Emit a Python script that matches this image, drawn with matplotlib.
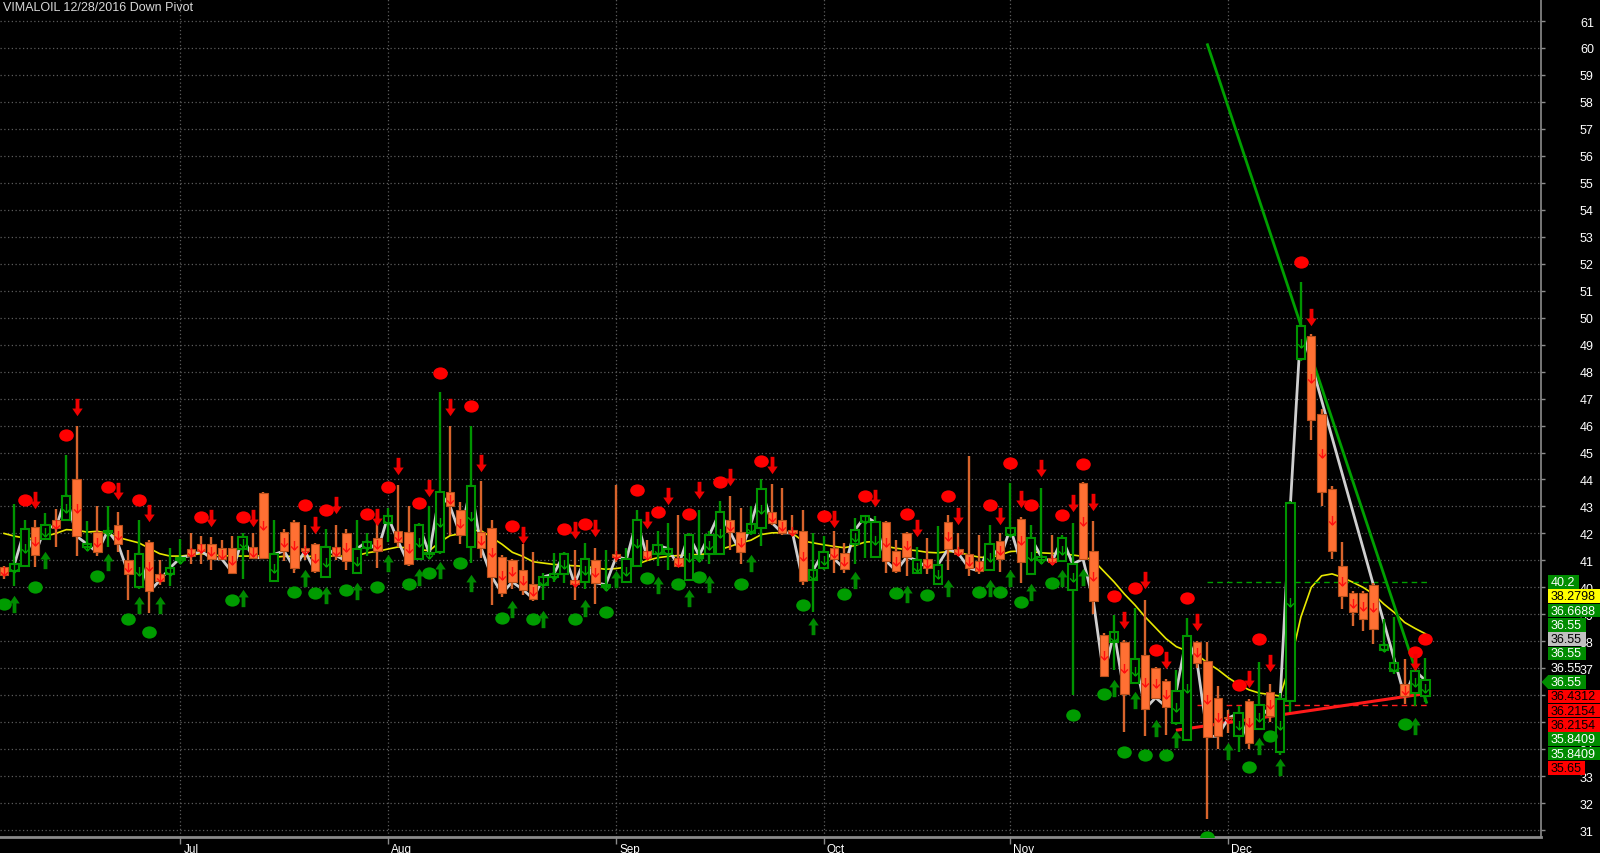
import numpy as np
import matplotlib
matplotlib.use('Agg')
import matplotlib.pyplot as plt
from matplotlib.path import Path
from matplotlib.transforms import blended_transform_factory, ScaledTranslation
import matplotlib.patches as mpatches

# ---------------- data ----------------
title = "VIMALOIL 12/28/2016 Down Pivot"

opens = [40.75, 40.6, 40.8, 42.25, 41.8, 42.5, 42.5, 44.0, 41.5, 42.05,
         42.05, 42.3, 41.0, 40.0, 41.7, 40.5, 40.5, 41.0, 41.43, 41.6,
         41.6, 41.45, 41.45, 41.43, 41.5, 43.5, 40.25, 42.05, 42.43, 41.45,
         41.6, 40.38, 41.5, 42.0, 40.55, 41.47, 41.83, 42.4, 42.08, 42.05,
         41.07, 41.22, 41.3, 43.52, 42.88, 41.5, 42.05, 42.2, 41.12, 41.0,
         40.66, 40.13, 40.1, 40.4, 40.5, 40.27, 40.2, 41.0, 40.0, 41.25,
         40.19, 40.8, 41.34, 41.22, 41.22, 41.09, 40.29, 41.09, 41.22, 41.22,
         42.5, 42.04, 42.02, 42.2, 42.8, 42.5, 42.14, 42.1, 40.27, 40.7,
         41.46, 41.28, 41.59, 42.41, 41.13, 42.41, 41.34, 42.02, 40.54, 41.07,
         40.14, 42.41, 41.43, 41.22, 40.97, 40.64, 41.71, 41.93, 42.55, 40.51,
         41.0, 41.08, 40.98, 39.89, 43.88, 41.36, 38.23, 37.98, 37.98, 36.47,
         37.49, 37.0, 36.52, 34.98, 34.33, 37.98, 37.28, 35.88, 35.2, 34.48,
         35.8, 34.74, 36.13, 33.91, 35.8, 48.47, 49.33, 46.43, 43.65, 40.78,
         39.79, 39.79, 40.09, 37.68, 36.89, 36.42, 36.07, 35.98]
highs = [40.8, 43.1, 42.5, 42.5, 42.75, 42.9, 44.9, 46.0, 42.45, 43.0,
         43.0, 42.8, 41.4, 42.5, 41.75, 41.0, 41.45, 41.8, 42.0, 41.9,
         41.85, 41.75, 41.9, 42.0, 42.0, 43.55, 42.5, 42.15, 42.5, 42.33,
         41.65, 42.15, 42.3, 42.15, 42.5, 42.0, 42.75, 42.95, 43.8, 43.0,
         42.4, 43.0, 47.25, 46.0, 43.15, 46.0, 43.93, 42.5, 41.2, 41.05,
         41.6, 41.3, 40.55, 41.28, 41.3, 41.4, 41.65, 41.47, 41.4, 43.8,
         41.45, 42.88, 41.77, 42.08, 42.4, 42.67, 42.0, 42.88, 42.1, 43.2,
         43.37, 42.94, 43.0, 44.0, 43.85, 43.68, 42.7, 42.88, 42.0, 41.9,
         42.08, 41.65, 42.57, 42.65, 42.63, 42.45, 41.77, 42.05, 41.5, 41.83,
         42.26, 42.67, 42.0, 44.88, 41.96, 42.33, 42.0, 43.87, 42.6, 42.33,
         43.7, 41.96, 41.96, 42.38, 43.9, 42.47, 38.3, 38.96, 38.05, 39.24,
         39.54, 37.05, 36.6, 36.94, 38.85, 38.0, 37.98, 36.33, 35.45, 35.6,
         35.85, 37.25, 36.4, 36.1, 43.2, 51.31, 49.4, 46.6, 43.77, 41.67,
         39.85, 39.85, 40.15, 38.83, 38.9, 37.34, 37.6, 37.38]
lows = [40.3, 40.05, 40.75, 40.75, 41.75, 41.5, 42.45, 41.15, 41.45, 41.15,
        41.5, 41.3, 39.55, 39.95, 39.05, 40.1, 40.05, 40.95, 40.85, 40.85,
        40.65, 41.0, 40.5, 40.3, 41.05, 41.05, 40.2, 40.97, 40.55, 41.03,
        40.55, 40.35, 41.0, 40.66, 40.5, 41.15, 40.7, 41.7, 41.5, 40.8,
        41.05, 41.2, 41.25, 41.95, 41.6, 40.9, 41.1, 39.33, 39.65, 39.95,
        39.7, 39.5, 39.55, 40.2, 40.17, 39.55, 39.93, 39.37, 39.85, 40.95,
        40.15, 40.75, 41.0, 40.78, 40.65, 40.75, 40.25, 41.0, 40.85, 41.2,
        41.38, 40.85, 41.95, 41.52, 42.3, 41.95, 41.95, 40.1, 39.1, 40.65,
        40.54, 40.54, 40.85, 41.1, 41.1, 40.54, 40.55, 40.42, 40.5, 40.5,
        40.1, 40.66, 41.2, 40.44, 40.5, 40.6, 40.57, 41.9, 40.17, 40.45,
        40.9, 40.9, 40.95, 36.0, 41.0, 39.03, 36.7, 36.94, 34.64, 36.4,
        34.5, 35.85, 34.52, 34.9, 34.3, 37.0, 31.43, 34.0, 34.6, 33.9,
        34.0, 34.7, 35.0, 33.8, 35.38, 48.4, 45.48, 43.03, 41.05, 39.2,
        38.58, 38.39, 37.9, 37.6, 36.8, 35.67, 35.6, 35.75]
closes = [40.45, 40.85, 42.15, 41.2, 42.3, 42.2, 43.4, 41.9, 41.6, 41.3,
          42.1, 41.6, 40.5, 41.25, 39.85, 40.25, 40.72, 41.1, 41.18, 41.35,
          41.07, 41.05, 40.55, 41.85, 41.1, 41.1, 41.22, 41.35, 40.7, 41.35,
          40.6, 41.5, 41.18, 40.97, 41.43, 41.7, 41.35, 42.63, 41.7, 40.85,
          42.3, 41.25, 43.52, 43.0, 41.93, 43.77, 41.45, 40.4, 39.78, 40.2,
          39.92, 39.58, 40.39, 40.5, 41.25, 40.14, 41.07, 40.17, 40.1, 41.13,
          41.05, 42.5, 41.09, 41.56, 41.44, 40.8, 41.93, 41.18, 41.95, 42.8,
          42.04, 41.3, 42.36, 43.64, 42.4, 42.02, 42.02, 40.23, 40.64, 41.32,
          41.06, 40.69, 42.12, 42.63, 42.41, 40.99, 40.6, 41.13, 41.0, 40.72,
          40.82, 41.43, 41.25, 40.72, 40.6, 41.59, 41.06, 42.2, 40.93, 41.83,
          41.12, 40.94, 41.82, 40.87, 41.05, 39.49, 36.73, 38.33, 36.03, 37.35,
          35.5, 35.91, 35.58, 36.17, 38.19, 37.21, 34.46, 34.49, 35.15, 35.34,
          34.22, 35.63, 35.22, 35.86, 43.13, 49.68, 46.22, 43.53, 41.36, 39.67,
          39.08, 38.83, 38.46, 37.88, 37.18, 35.96, 36.91, 36.55]

# yellow moving average
avg_line = [42.0, 41.9, 41.83, 41.8, 41.9, 42.0, 42.14, 42.12, 42.05, 42.08,
            42.0, 41.85, 41.75, 41.65, 41.45, 41.25, 41.16, 41.16, 41.2, 41.25,
            41.2, 41.18, 41.16, 41.16, 41.16, 41.18, 41.12, 41.15, 41.15, 41.15,
            41.15, 41.16, 41.16, 41.16, 41.18, 41.28, 41.34, 41.42, 41.5, 41.45,
            41.4, 41.36, 41.68, 41.92, 41.99, 42.12, 42.1, 41.85, 41.6, 41.3,
            41.15, 40.95, 40.9, 40.85, 40.82, 40.8, 40.78, 40.72, 40.67, 40.7,
            40.75, 40.85, 41.0, 41.1, 41.15, 41.18, 41.2, 41.22, 41.25, 41.4,
            41.52, 41.65, 41.75, 41.96, 42.02, 42.03, 42.0, 41.72, 41.65, 41.58,
            41.52, 41.47, 41.55, 41.68, 41.7, 41.52, 41.45, 41.4, 41.36, 41.3,
            41.28, 41.33, 41.3, 41.2, 41.12, 41.1, 41.2, 41.33, 41.35, 41.33,
            41.28, 41.26, 41.25, 41.2, 41.15, 41.0, 40.6, 40.2, 39.75, 39.35,
            38.9, 38.5, 38.1, 37.8, 37.65, 37.5, 37.2, 36.95, 36.65, 36.4,
            36.2, 36.08, 36.03, 35.97, 37.2, 38.9, 40.0, 40.43, 40.5, 40.37,
            40.19, 40.0, 39.75, 39.38, 39.07, 38.7, 38.48, 38.28]

# zigzag (grey) skips these bars (straight leg of the last swing)
zigzag_skip = [126, 127, 128, 129, 130, 131, 132, 133, 134]

month_names = ['Jul', 'Aug', 'Sep', 'Oct', 'Nov', 'Dec']
month_bars = [17, 37, 59, 79, 97, 118]

red_circle_bars = [2, 6, 10, 13, 19, 23, 29, 31, 35, 37, 40, 42, 45, 49,
                   54, 56, 61, 63, 66, 69, 73, 79, 83, 87, 91, 95, 97, 99,
                   102, 104, 107, 109, 111, 114, 119, 121, 125, 136, 137]
red_circle_vals = [43.23, 45.66, 43.72, 43.23, 42.62, 42.62, 43.04, 42.88, 42.73, 43.72,
                   43.13, 47.96, 46.73, 42.29, 42.17, 42.36, 43.62, 42.79, 42.73, 43.92,
                   44.69, 42.63, 43.37, 42.73, 43.4, 43.04, 44.61, 43.04,
                   42.7, 44.58, 39.68, 39.96, 37.68, 39.59, 36.38, 38.08, 52.06, 37.59, 38.09]

red_arrow_bars = [3, 7, 11, 14, 20, 24, 30, 32, 36, 38, 41, 43, 46, 50,
                  55, 57, 62, 64, 67, 70, 74, 80, 84, 88, 92, 96, 98, 100,
                  103, 105, 108, 110, 112, 115, 120, 122, 126, 136]
red_arrow_vals = [43.25, 46.7, 43.56, 42.76, 42.57, 42.57, 42.3, 43.07, 42.6, 44.5,
                  43.7, 46.7, 44.6, 41.95, 42.14, 42.2, 42.51, 43.37, 43.62, 44.11,
                  44.54, 42.53, 43.33, 42.2, 42.63, 42.66, 43.28, 44.42,
                  43.12, 43.17, 38.79, 40.27, 37.29, 38.71, 36.6, 37.2, 50.03, 37.23]

green_circle_bars = [0, 3, 9, 12, 14, 22, 28, 30, 33, 36, 39, 41, 44, 48,
                     51, 55, 58, 62, 65, 67, 71, 77, 81, 86, 89, 94, 96, 98,
                     101, 103, 106, 108, 110, 112, 116, 120, 122, 135]
green_circle_vals = [39.4, 40.01, 40.42, 38.81, 38.36, 39.55, 39.84, 39.8, 39.92, 40.0,
                     40.13, 40.52, 40.89, 38.88, 38.81, 38.81, 39.08, 40.35, 40.11, 40.39,
                     40.11, 39.34, 39.77, 39.8, 39.7, 39.83, 39.83, 39.45,
                     40.17, 35.26, 36.03, 33.91, 33.77, 33.8, 30.75, 33.34, 34.5, 34.93]

green_arrow_bars = [1, 4, 10, 13, 15, 23, 29, 31, 34, 37, 40, 42, 45, 49,
                    52, 56, 59, 63, 66, 68, 72, 78, 82, 87, 91, 95, 97, 99,
                    102, 104, 107, 109, 111, 113, 118, 121, 123, 136]
green_arrow_vals = [39.37, 41.03, 40.93, 39.33, 39.33, 39.6, 40.35, 39.7, 39.86, 40.9,
                    40.39, 40.66, 40.17, 39.19, 38.84, 39.24, 40.32, 40.07, 39.61, 40.14,
                    40.91, 38.56, 40.28, 39.74, 39.98, 39.98, 40.33, 39.83,
                    40.33, 40.38, 36.28, 35.82, 34.8, 34.36, 33.94, 34.11, 33.35, 34.87]

green_trend_x = [116.0, 137.1]
green_trend_y = [60.12, 35.74]
red_trend_x = [113.1, 136.8]
red_trend_y = [34.71, 36.05]
green_dash = (116.0, 137.2, 40.2)
red_dash = (115.0, 137.2, 35.65)

label_texts = ['40.2', '38.2798', '36.6688', '36.55', '36.55', '36.55', '36.55',
               '36.55', '36.4312', '36.2154', '36.2154', '35.8409', '35.8409', '35.65']
label_bg = ['#008c00', '#ffff00', '#008c00', '#008c00', '#c0c0c0', '#008c00', 'none',
            '#008c00', '#ff0000', '#ff0000', '#ff0000', '#008c00', '#008c00', '#ff0000']
label_fg = ['white', 'black', 'white', 'white', 'black', 'white', 'white',
            'white', 'black', 'black', 'black', 'white', 'white', 'black']
label_w_px = [31, 52, 52, 38, 38, 38, 0, 38, 52, 52, 52, 52, 52, 37]
label_pointer = [False] * 7 + [True] + [False] * 6

# ---------------- figure ----------------
W, H = 1600, 854
AX_R, AX_B = 1541, 838
fig = plt.figure(figsize=(W / 100, H / 100), dpi=100, facecolor='black')
ax = fig.add_axes([0, (H - AX_B) / H, AX_R / W, AX_B / H], facecolor='black')

px_per_unit = 26.97
bar_px = 10.375
ax.set_ylim(61 - (AX_B - 22) / px_per_unit, 61 + 22 / px_per_unit)
ax.set_xlim(-4 / bar_px, (AX_R - 4) / bar_px)

n = len(closes)
idx = np.arange(n)
o = np.array(opens); c = np.array(closes); hi = np.array(highs); lo = np.array(lows)
up = c >= o

GREEN = '#009400'
ORANGE = '#ff7033'

# grid
ax.set_yticks(range(31, 62))
ax.set_xticks(month_bars)
ax.grid(True, color='#5c5c5c', linestyle=(0, (1, 2)), linewidth=0.9, zorder=0)
ax.set_axisbelow(True)

# moving average
ax.plot(idx, avg_line, color='#e8e800', lw=1.2, zorder=2)

# trend lines and dashed levels
ax.plot(green_trend_x, green_trend_y, color='#00a000', lw=2, zorder=2.2)
ax.plot(red_trend_x, red_trend_y, color='#ff1a1a', lw=2.2, zorder=2.2)
ax.hlines(green_dash[2], green_dash[0], green_dash[1], colors='#00a000', lw=1,
          linestyles=(0, (4, 3)), zorder=2.1)
ax.hlines(red_dash[2], red_dash[0], red_dash[1], colors='#ff2020', lw=1,
          linestyles=(0, (4, 3)), zorder=2.1)

# zigzag
zz_x = [i for i in range(n) if i not in zigzag_skip]
zz_y = [closes[i] for i in zz_x]
ax.plot(zz_x, zz_y, color='#cfcfcf', lw=2, zorder=2.5)

# wicks
ax.vlines(idx[up], lo[up], hi[up], colors=GREEN, lw=1.7, zorder=3)
ax.vlines(idx[~up], lo[~up], hi[~up], colors='#d8642c', lw=1.7, zorder=3)

# bodies
bw = 0.8
bot = np.minimum(o, c)
ht = np.maximum(np.abs(c - o), 0.04)
ax.bar(idx[up], ht[up], bw, bottom=bot[up], facecolor='black', edgecolor=GREEN,
       linewidth=1.5, zorder=4)
ax.bar(idx[~up], ht[~up], bw, bottom=bot[~up], facecolor=ORANGE, edgecolor='#b9501c',
       linewidth=0.8, zorder=4)

# small signal arrows inside candles
sa = Path([(0, 0.5), (0, -0.5), (-0.38, -0.1), (0, -0.5), (0.38, -0.1)],
          [Path.MOVETO, Path.LINETO, Path.MOVETO, Path.LINETO, Path.LINETO])
mid = (o + c) / 2
ax.plot(idx[~up], mid[~up], ls='none', marker=sa, ms=6.5, mfc='none', mec='#ff1010',
        mew=1.0, zorder=5)
ax.plot(idx[up], mid[up], ls='none', marker=sa, ms=6.5, mfc='none', mec='#00a000',
        mew=1.0, zorder=5)

# big arrows and circles
down_arrow = Path([(-0.11, 0.5), (0.11, 0.5), (0.11, -0.06), (0.3, -0.06), (0, -0.5),
                   (-0.3, -0.06), (-0.11, -0.06), (-0.11, 0.5)],
                  [Path.MOVETO] + [Path.LINETO] * 6 + [Path.CLOSEPOLY])
up_arrow = Path(down_arrow.vertices * np.array([1, -1]), down_arrow.codes)
circ = Path.unit_circle()
ellipse = Path(circ.vertices * np.array([1, 0.84]), circ.codes)

ax.plot(red_circle_bars, red_circle_vals, ls='none', marker=ellipse, ms=10.5,
        mfc='#ff0000', mec='#ff0000', mew=0, zorder=6)
ax.plot(green_circle_bars, green_circle_vals, ls='none', marker=ellipse, ms=10.5,
        mfc='#009c00', mec='#009c00', mew=0, zorder=6)
ax.plot(red_arrow_bars, red_arrow_vals, ls='none', marker=down_arrow, ms=12.5,
        mfc='#f00000', mec='#f00000', mew=0, zorder=6)
ax.plot(green_arrow_bars, green_arrow_vals, ls='none', marker=up_arrow, ms=12.5,
        mfc='#008a00', mec='#008a00', mew=0, zorder=6)

# axes styling
for s in ['left', 'top']:
    ax.spines[s].set_visible(False)
ax.spines['right'].set_color('#8c8c8c')
ax.spines['right'].set_linewidth(1.2)
ax.spines['bottom'].set_color('#8a8a8a')
ax.spines['bottom'].set_linewidth(2)
ax.yaxis.tick_right()
ax.set_yticklabels([str(v) for v in range(31, 62)])
ax.tick_params(axis='y', colors='#8c8c8c', labelcolor='white', length=3, width=1,
               pad=25, labelsize=9)
for lbl in ax.get_yticklabels():
    lbl.set_fontfamily('Liberation Sans')
ax.set_xticklabels(month_names)
ax.tick_params(axis='x', colors='#8c8c8c', labelcolor='white', length=5, width=1,
               pad=-1, labelsize=8.5)
offs = ScaledTranslation(3 / 100, 0, fig.dpi_scale_trans)
for lbl in ax.get_xticklabels():
    lbl.set_horizontalalignment('left')
    lbl.set_fontfamily('Liberation Sans')
    lbl.set_transform(lbl.get_transform() + offs)

# title
fig.text(3 / W, 1 - 8 / H, title, ha='left', va='center', color='#d8d8d8',
         fontsize=9, family='Liberation Sans')

# right-side value labels (stacked)
tr = blended_transform_factory(ax.transAxes, ax.transData)
step = 14.3 / px_per_unit
box_h = 13.6 / px_per_unit
y0 = float(label_texts[0])
for k, (t, bg, fg, wpx, ptr) in enumerate(zip(label_texts, label_bg, label_fg,
                                               label_w_px, label_pointer)):
    yc = y0 - k * step
    x0 = 1548 / AX_R
    if bg != 'none':
        ax.add_patch(mpatches.Rectangle((x0, yc - box_h / 2), wpx / AX_R, box_h,
                                        transform=tr, facecolor=bg, edgecolor='none',
                                        clip_on=False, zorder=9))
    if ptr:
        ax.add_patch(mpatches.Polygon([(1541.5 / AX_R, yc), (x0, yc + box_h / 2),
                                       (x0, yc - box_h / 2)], closed=True,
                                      transform=tr, facecolor=bg, edgecolor='none',
                                      clip_on=False, zorder=9))
    ax.text(1550.5 / AX_R, yc, t, transform=tr, ha='left', va='center', color=fg,
            fontsize=9, family='Liberation Sans', clip_on=False, zorder=10)

fig.savefig('out.png', dpi=100, facecolor='black')
